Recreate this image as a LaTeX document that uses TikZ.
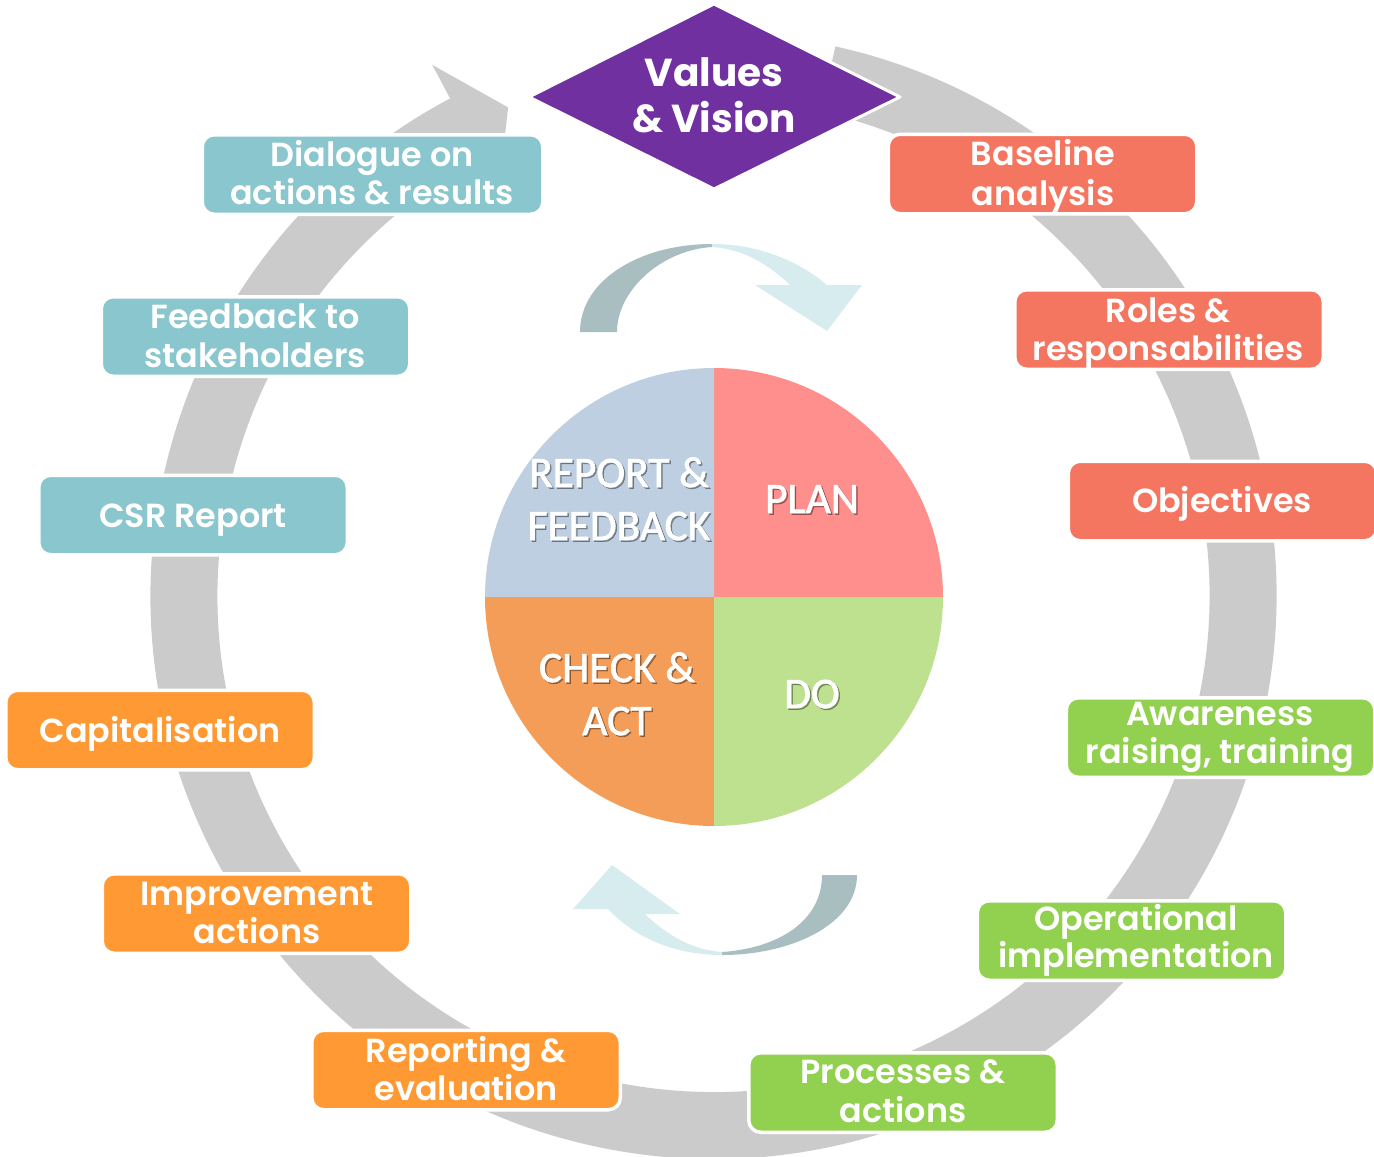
\documentclass[tikz,border=0pt]{standalone}
\usepackage{fontspec}
\setmainfont{Poppins}
\IfFontExistsTF{Poppins SemiBold}
  {\newfontfamily\boxfont{Poppins SemiBold}\def\boxsize{16.7}}
  {\newfontfamily\boxfont{Poppins}[FakeBold=3]\def\boxsize{17.3}}
\newfontfamily\piefont{Carlito}[FakeBold=1.6]
\usetikzlibrary{calc}
\definecolor{ringgray}{HTML}{CBCBCB}
\definecolor{vvpurple}{HTML}{7030A0}
\definecolor{cteal}{HTML}{8AC6CD}
\definecolor{ccoral}{HTML}{F47560}
\definecolor{corange}{HTML}{FF9933}
\definecolor{cgreen}{HTML}{92D050}
\definecolor{pieblue}{HTML}{BDCFE1}
\definecolor{piepink}{HTML}{FF8F8C}
\definecolor{pieorange}{HTML}{F49D58}
\definecolor{piegreen}{HTML}{BDE18F}
\definecolor{arrdark}{HTML}{A9BEC1}
\definecolor{arrlight}{HTML}{D6ECEF}
\begin{document}
\begin{tikzpicture}[x=0.5pt,y=-0.5pt,
  box/.style={rectangle, rounded corners=6pt, draw=white, line width=1.75pt,
    inner sep=0pt, minimum width=154.25pt, minimum height=39.75pt},
  btxt/.style={anchor=base, text=white, inner sep=0pt,
    font=\boxfont\fontsize{\boxsize}{20}\selectfont},
  vtxt/.style={anchor=base, text=white, inner sep=0pt,
    font=\fontsize{19.5}{24}\selectfont\bfseries},
  ptxt/.style={anchor=base, text=white, inner sep=0pt,
    font=\piefont\fontsize{21.7}{26}\selectfont},
  pshadow/.style={ptxt, text=black, opacity=0.3}
]
\useasboundingbox (0,0) rectangle (1374,1156);
% ---------- big ring arrow ----------
\coordinate (C) at (713.5,596);
\fill[ringgray] ($(C)+(-77.5:563)$) arc[start angle=-77.5, end angle=242.1, radius=563]
  -- ($(C)+(242.1:601)$) -- ($(C)+(247.2:530)$) -- ($(C)+(242.1:459)$)
  -- ($(C)+(242.1:496)$) arc[start angle=242.1, end angle=-77.5, radius=496] -- cycle;
% ---------- diamond ----------
\coordinate (dT) at (714,4);
\coordinate (dR) at (900,97);
\coordinate (dB) at (714,189);
\coordinate (dL) at (529,97);
\fill[vvpurple, draw=white, line width=1.5pt, line join=round] (dT) -- (dR) -- (dB) -- (dL) -- cycle;
\node[vtxt] (v1) at (714,87) {Values};
\node[vtxt] (v2) at (714,133) {\& Vision};
% ---------- boxes ----------
\node[box, fill=cteal, minimum width=170.25pt] (b1) at (372.5,174.5) {};
\node[btxt] (b1a) at (372,166) {Dialogue on};
\node[btxt] (b1b) at (372,204) {actions \& results};
\node[box, fill=cteal] (b2) at (255.5,336.5) {};
\node[btxt] (b2a) at (255,328) {Feedback to};
\node[btxt] (b2b) at (255,367) {stakeholders};
\node[box, fill=cteal] (b3) at (193,515) {};
\node[btxt] (b3a) at (193,527) {CSR Report};
\node[box, fill=corange] (b4) at (160,730) {};
\node[btxt] (b4a) at (160,742) {Capitalisation};
\node[box, fill=corange] (b5) at (256.5,913.5) {};
\node[btxt] (b5a) at (257,905) {Improvement};
\node[btxt] (b5b) at (257,943) {actions};
\node[box, fill=corange] (b6) at (466,1070) {};
\node[btxt] (b6a) at (466,1062) {Reporting \&};
\node[btxt] (b6b) at (466,1100) {evaluation};
\node[box, fill=cgreen] (b7) at (903,1092.5) {};
\node[btxt] (b7a) at (903,1083) {Processes \&};
\node[btxt] (b7b) at (903,1122) {actions};
\node[box, fill=cgreen] (b8) at (1131.5,940.5) {};
\node[btxt] (b8a) at (1136,930) {Operational};
\node[btxt] (b8b) at (1136,967) {implementation};
\node[box, fill=cgreen] (b9) at (1220.5,737.5) {};
\node[btxt] (b9a) at (1220,725) {Awareness};
\node[btxt] (b9b) at (1220,763) {raising, training};
\node[box, fill=ccoral] (b10) at (1222.5,501) {};
\node[btxt] (b10a) at (1222,512) {Objectives};
\node[box, fill=ccoral] (b11) at (1169,329.5) {};
\node[btxt] (b11a) at (1168,322) {Roles \&};
\node[btxt] (b11b) at (1168,360) {responsabilities};
\node[box, fill=ccoral] (b12) at (1042.5,174) {};
\node[btxt] (b12a) at (1043,165) {Baseline};
\node[btxt] (b12b) at (1043,205) {analysis};
% ---------- PDCA pie ----------
\coordinate (P) at (714,597);
\fill[piepink] (P) -- ($(P)+(0:229)$) arc[start angle=0, end angle=-90, radius=229] -- cycle;
\fill[pieblue] (P) -- ($(P)+(-90:229)$) arc[start angle=-90, end angle=-180, radius=229] -- cycle;
\fill[pieorange] (P) -- ($(P)+(180:229)$) arc[start angle=180, end angle=90, radius=229] -- cycle;
\fill[piegreen] (P) -- ($(P)+(90:229)$) arc[start angle=90, end angle=0, radius=229] -- cycle;
\node[pshadow] (p1s) at (620.5,488.5) {REPORT \&};
\node[pshadow] (p2s) at (620.5,541.5) {FEEDBACK};
\node[pshadow] (p3s) at (813.5,514.5) {PLAN};
\node[pshadow] (p4s) at (618.5,683.5) {CHECK \&};
\node[pshadow] (p5s) at (618.5,736.5) {ACT};
\node[pshadow] (p6s) at (813.5,709.5) {DO};
\node[ptxt] (p1) at (619,487) {REPORT \&};
\node[ptxt] (p2) at (619,540) {FEEDBACK};
\node[ptxt] (p3) at (812,513) {PLAN};
\node[ptxt] (p4) at (617,682) {CHECK \&};
\node[ptxt] (p5) at (617,735) {ACT};
\node[ptxt] (p6) at (812,708) {DO};
% ---------- small curved arrows ----------
\fill[arrdark] (580,332) .. controls (580,280) and (640,244) .. (712,244)
  -- (712,247) .. controls (662,250) and (617,290) .. (617,332) -- cycle;
\fill[arrlight] (712,244) .. controls (760,244) and (800,262) .. (827,285)
  -- (862,285) -- (827,331) -- (755,285) -- (790,285)
  .. controls (770,266) and (745,249) .. (712,247) -- cycle;
\fill[arrdark] (857,875) .. controls (857,925) and (790,955) .. (722,955)
  -- (722,952) .. controls (780,948) and (822,920) .. (822,875) -- cycle;
\fill[arrlight] (722,955) .. controls (675,955) and (635,938) .. (608,909)
  -- (573,909) -- (612,865) -- (680,914) -- (645,914)
  .. controls (670,938) and (695,950) .. (722,952) -- cycle;
\end{tikzpicture}
\end{document}
